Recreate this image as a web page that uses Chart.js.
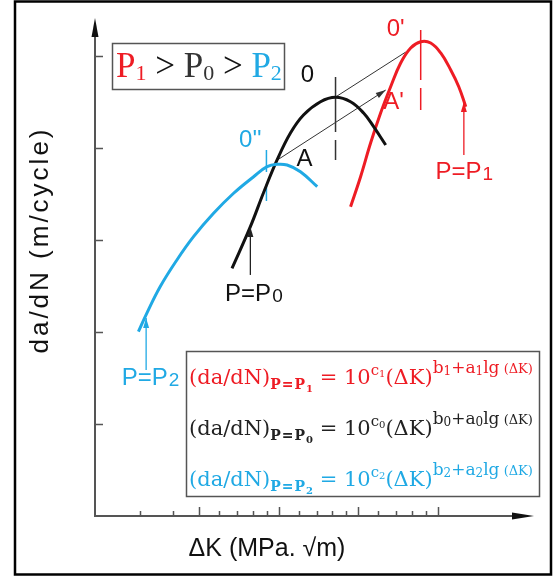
<!DOCTYPE html>
<html>
<head>
<meta charset="utf-8">
<script src="https://cdn.jsdelivr.net/npm/chart.js@4.4.1/dist/chart.umd.min.js"></script>
<style>
  html, body { margin: 0; padding: 0; background: #fff; }
</style>
</head>
<body>
<canvas id="grafico" width="557" height="577"></canvas>
<script>
// escala esquematica: x em "decadas" de ΔK, y em divisoes de da/dN
const xMin = -0.311, xMax = 5.21;
const yMin = 0, yMax = 5.413;

// curva P = P2 (azul)
const curvaP2X = [0.235, 0.340, 0.508, 0.719, 0.928, 1.180, 1.432, 1.684, 1.853, 1.979, 2.105, 2.273, 2.484];
const curvaP2Y = [2.003, 2.203, 2.492, 2.783, 3.036, 3.290, 3.508, 3.688, 3.797, 3.823, 3.815, 3.742, 3.579];

// curva P = P0 (preta)
const curvaP0X = [1.412, 1.643, 1.807, 1.979, 2.147, 2.311, 2.525, 2.714, 2.903, 3.067, 3.193, 3.345];
const curvaP0Y = [2.692, 3.145, 3.511, 3.870, 4.163, 4.359, 4.503, 4.551, 4.503, 4.380, 4.232, 4.033];

// curva P = P1 (vermelha)
const curvaP1X = [2.903, 3.029, 3.155, 3.281, 3.407, 3.533, 3.659, 3.785, 3.911, 4.037, 4.163, 4.264, 4.352];
const curvaP1Y = [3.362, 3.688, 4.054, 4.380, 4.666, 4.924, 5.087, 5.155, 5.141, 5.033, 4.848, 4.666, 4.449];

// marcas verticais nos picos (0'', 0, 0')
const picoP2X = [1.845, 1.845], picoP2Y = [3.978, 3.424];
const picoP0X = [2.714, 2.714], picoP0Y = [4.772, 3.870];
const picoP1X = [3.785, 3.785], picoP1Y = [5.283, 4.413];

// linhas finas de translacao O -> O' e A -> A'
const linhaOX = [2.714, 3.597], linhaOY = [4.554, 5.043];
const linhaAX = [1.983, 3.345], linhaAY = [3.870, 4.630];

// setas P = Pi
const setaP2X = [0.332, 0.332], setaP2Y = [1.587, 2.152];
const setaP0X = [1.643, 1.643], setaP0Y = [2.620, 3.141];
const setaP1X = [4.328, 4.328], setaP1Y = [3.924, 4.500];

// ticks dos eixos
const ticksY = [1, 2, 3, 4, 5];
const ticksXMaiores = [1, 2, 3, 4];
const ticksXMenores = [0.25, 0.67, 1.25, 1.48, 1.67, 1.85, 2.25, 2.48, 2.67, 2.85, 3.25, 3.48, 3.67, 3.85];

const vermelho = '#ee1c24';
const azul = '#20a9e4';
const preto = '#111';

// rotulos (texto, posicao em unidades do grafico)
const rotulos = [
    { t: "0''", x: 1.643, y: 4.087, cor: azul },
    { t: '0', x: 2.362, y: 4.793, cor: preto },
    { t: "0'", x: 3.470, y: 5.293, cor: vermelho },
    { t: 'A', x: 2.323, y: 3.880, cor: preto },
    { t: "A'", x: 3.445, y: 4.500, cor: vermelho },
    { t: 'P=P', sub: '0', x: 1.681, y: 2.413, cor: preto },
    { t: 'P=P', sub: '2', x: 0.382, y: 1.500, cor: azul },
    { t: 'P=P', sub: '1', x: 4.328, y: 3.739, cor: vermelho }
];

const pontos = (xs, ys) => xs.map((x, i) => ({ x: x, y: ys[i] }));

function curva(xs, ys, cor) {
    return { data: pontos(xs, ys), borderColor: cor, borderWidth: 3, tension: 0.4, pointRadius: 0, fill: false };
}
function traco(xs, ys, cor, largura, dash, seta) {
    return { data: pontos(xs, ys), borderColor: cor, borderWidth: largura, borderDash: dash || [], pointRadius: 0, fill: false, tension: 0, seta: !!seta };
}

function textoRico(ctx, x0, base, partes, cor, familia) {
    let x = x0;
    partes.forEach(p => {
        ctx.font = (p.b ? 'bold ' : '') + p.s + 'px ' + familia;
        ctx.fillStyle = p.c || cor;
        ctx.letterSpacing = (p.ls || 0) + 'px';
        ctx.fillText(p.t, x, base + (p.dy || 0));
        x += ctx.measureText(p.t).width;
    });
    ctx.letterSpacing = '0px';
}

function formula(k) {
    return [
        { t: '(da/dN)', s: 21 },
        { t: 'P=P', s: 14, b: true, dy: 5, ls: 1 },
        { t: k, s: 10, b: true, dy: 8 },
        { t: ' = 10', s: 21 },
        { t: 'c', s: 15, dy: -9 },
        { t: k, s: 10, dy: -7 },
        { t: '(ΔK)', s: 21 },
        { t: 'b', s: 17, dy: -11 },
        { t: k, s: 12, dy: -9 },
        { t: '+a', s: 17, dy: -11 },
        { t: k, s: 12, dy: -9 },
        { t: 'lg', s: 17, dy: -11 },
        { t: ' (ΔK)', s: 13, dy: -11 }
    ];
}

function setaCheia(ctx, x, y, ang, comp, larg) {
    ctx.save();
    ctx.translate(x, y);
    ctx.rotate(ang);
    ctx.beginPath();
    ctx.moveTo(0, 0);
    ctx.lineTo(-comp, -larg);
    ctx.lineTo(-comp, larg);
    ctx.closePath();
    ctx.fill();
    ctx.restore();
}

const esquema = {
    id: 'esquema',
    afterDatasetsDraw(chart) {
        const ctx = chart.ctx;
        const a = chart.chartArea;
        const sx = chart.scales.x, sy = chart.scales.y;
        ctx.save();

        // pontas de seta das series marcadas
        chart.data.datasets.forEach((ds, i) => {
            if (!ds.seta) return;
            const pts = chart.getDatasetMeta(i).data;
            const p1 = pts[pts.length - 1], p0 = pts[pts.length - 2];
            ctx.fillStyle = ds.borderColor;
            setaCheia(ctx, p1.x, p1.y, Math.atan2(p1.y - p0.y, p1.x - p0.x), 10, 3);
        });

        // eixos
        ctx.strokeStyle = '#555';
        ctx.lineWidth = 2;
        ctx.beginPath();
        ctx.moveTo(a.left, a.top + 12);
        ctx.lineTo(a.left, a.bottom);
        ctx.lineTo(a.right - 14, a.bottom);
        ctx.stroke();
        ctx.fillStyle = '#111';
        setaCheia(ctx, a.left, a.top, -Math.PI / 2, 19, 3.5);
        setaCheia(ctx, a.right, a.bottom, 0, 22, 3.5);

        ctx.lineWidth = 1.5;
        ctx.beginPath();
        ticksY.forEach(v => {
            const py = Math.round(sy.getPixelForValue(v)) + 0.5;
            ctx.moveTo(a.left, py);
            ctx.lineTo(a.left + 8, py);
        });
        ticksXMaiores.forEach(v => {
            const px = Math.round(sx.getPixelForValue(v)) + 0.5;
            ctx.moveTo(px, a.bottom);
            ctx.lineTo(px, a.bottom - 9);
        });
        ticksXMenores.forEach(v => {
            const px = Math.round(sx.getPixelForValue(v)) + 0.5;
            ctx.moveTo(px, a.bottom);
            ctx.lineTo(px, a.bottom - 5);
        });
        ctx.stroke();

        // titulos dos eixos
        ctx.fillStyle = '#111';
        ctx.textAlign = 'center';
        ctx.textBaseline = 'middle';
        ctx.save();
        ctx.translate(41, 240);
        ctx.rotate(-Math.PI / 2);
        ctx.font = '26px "Liberation Sans", Arial, sans-serif';
        ctx.letterSpacing = '3px';
        ctx.fillText('da/dN (m/cycle)', 0, 0);
        ctx.restore();
        ctx.letterSpacing = '0px';
        ctx.font = '25px "Liberation Sans", Arial, sans-serif';
        ctx.fillText('ΔK (MPa. √m)', 267, 549);

        // rotulos das curvas
        rotulos.forEach(r => {
            const px = sx.getPixelForValue(r.x), py = sy.getPixelForValue(r.y);
            ctx.fillStyle = r.cor;
            ctx.font = '24px "Liberation Sans", Arial, sans-serif';
            if (!r.sub) {
                ctx.textAlign = 'center';
                ctx.fillText(r.t, px, py);
                return;
            }
            const w1 = ctx.measureText(r.t).width;
            ctx.font = '19px "Liberation Sans", Arial, sans-serif';
            const w2 = ctx.measureText(r.sub).width;
            ctx.textAlign = 'left';
            const x0 = px - (w1 + w2) / 2;
            ctx.font = '24px "Liberation Sans", Arial, sans-serif';
            ctx.fillText(r.t, x0, py);
            ctx.font = '19px "Liberation Sans", Arial, sans-serif';
            ctx.fillText(r.sub, x0 + w1 + 1, py + 3);
        });

        // caixa P1 > P0 > P2
        ctx.textAlign = 'left';
        ctx.textBaseline = 'alphabetic';
        ctx.strokeStyle = '#555';
        ctx.lineWidth = 1.5;
        ctx.strokeRect(112.5, 43.5, 172, 46);
        textoRico(ctx, 116, 77, [
            { t: 'P', s: 35, c: vermelho },
            { t: '1', s: 22, dy: 3, c: vermelho },
            { t: ' > ', s: 35, c: '#111' },
            { t: 'P', s: 35, c: '#333' },
            { t: '0', s: 22, dy: 3, c: '#333' },
            { t: ' > ', s: 35, c: '#111' },
            { t: 'P', s: 35, c: azul },
            { t: '2', s: 22, dy: 3, c: azul }
        ], '#111', '"Liberation Serif", "Times New Roman", serif');

        // caixa das equacoes
        ctx.strokeRect(186.5, 351.5, 353, 145);
        const serif = '"DejaVu Serif", Georgia, serif';
        textoRico(ctx, 189, 384, formula('1'), vermelho, serif);
        textoRico(ctx, 189, 435, formula('0'), '#222', serif);
        textoRico(ctx, 189, 486, formula('2'), azul, serif);

        // moldura externa
        ctx.strokeStyle = '#000';
        ctx.lineWidth = 2.5;
        ctx.strokeRect(15, 1.5, 536, 573);
        ctx.restore();
    }
};

new Chart(document.getElementById('grafico').getContext('2d'), {
    type: 'line',
    data: {
        datasets: [
            curva(curvaP2X, curvaP2Y, azul),
            curva(curvaP0X, curvaP0Y, preto),
            curva(curvaP1X, curvaP1Y, vermelho),
            traco(picoP2X, picoP2Y, azul, 1.5, [22, 14]),
            traco(picoP0X, picoP0Y, '#333', 1.5, [55, 8]),
            traco(picoP1X, picoP1Y, vermelho, 1.5, [50, 8]),
            traco(linhaOX, linhaOY, '#333', 1, null),
            traco(linhaAX, linhaAY, '#333', 1, null, true),
            traco(setaP2X, setaP2Y, azul, 1.3, null, true),
            traco(setaP0X, setaP0Y, '#222', 1.3, null, true),
            traco(setaP1X, setaP1Y, vermelho, 1.3, null, true)
        ]
    },
    options: {
        responsive: false,
        animation: false,
        devicePixelRatio: 1,
        layout: { padding: { left: 95, right: 23, top: 18, bottom: 61 } },
        plugins: { legend: { display: false }, tooltip: { enabled: false } },
        scales: {
            x: { type: 'linear', display: false, min: xMin, max: xMax },
            y: { type: 'linear', display: false, min: yMin, max: yMax }
        }
    },
    plugins: [esquema]
});
</script>
</body>
</html>
